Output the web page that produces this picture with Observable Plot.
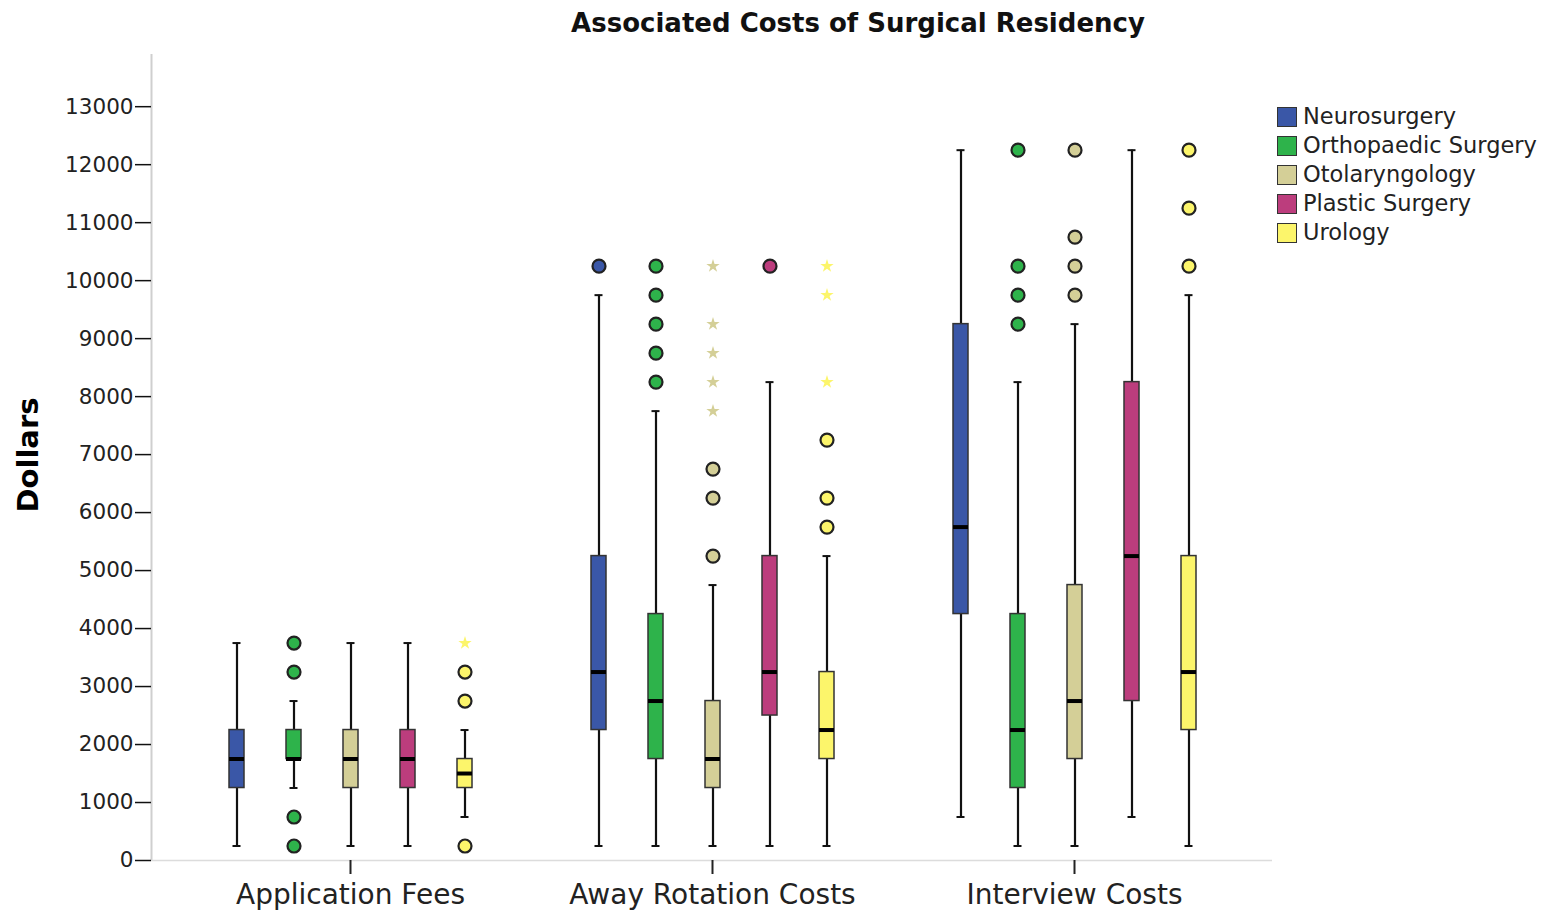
<!DOCTYPE html>
<html>
<head>
<meta charset="utf-8">
<script src="https://cdn.jsdelivr.net/npm/d3@7"></script>
<script src="https://cdn.jsdelivr.net/npm/@observablehq/plot@0.6"></script>
<style>
  html, body { margin: 0; padding: 0; background: #fff; }
  #wrap { position: relative; width: 1542px; height: 911px; overflow: hidden; font-family: "DejaVu Sans", sans-serif; color: #111; }
  #title { position: absolute; top: 10px; left: 858px; transform: translateX(-50%); white-space: nowrap; font-weight: bold; font-size: 26px; line-height: 26px; color: #111; }
  #ylabel { position: absolute; left: 28px; top: 455px; transform: translate(-50%, -50%) rotate(-90deg); font-weight: bold; font-size: 29px; line-height: 29px; white-space: nowrap; color: #000; }
  .layer { position: absolute; left: 0; top: 44px; }
  #legend { position: absolute; left: 1277px; top: 102px; }
  .row { display: flex; align-items: center; height: 29px; }
  .sw { width: 18px; height: 18px; border: 1.5px solid #333; margin-right: 6px; }
  .lt { font-size: 22.5px; line-height: 22px; color: #222; white-space: nowrap; margin-top: -2px; }
</style>
</head>
<body>
<div id="wrap">
  <div id="title">Associated Costs of Surgical Residency</div>
  <div id="ylabel">Dollars</div>
  <div id="axisLayer" class="layer"></div>
  <div id="boxLayer" class="layer"></div>
  <div id="legend"></div>
</div>
<script>
// ---- data ----
const groups = ["Application Fees", "Away Rotation Costs", "Interview Costs"];
const specialties = ["Neurosurgery", "Orthopaedic Surgery", "Otolaryngology", "Plastic Surgery", "Urology"];
const colors = ["#3A57A7", "#2EB34B", "#D4CF97", "#BC3D7D", "#FCF56B"];
const yTicks = [0, 1000, 2000, 3000, 4000, 5000, 6000, 7000, 8000, 9000, 10000, 11000, 12000, 13000];

// per group (rows) x per specialty (columns)
const whiskerLow  = [[250, 1250, 250, 250, 750], [250, 250, 250, 250, 250], [750, 250, 250, 750, 250]];
const quartile1   = [[1250, 1750, 1250, 1250, 1250], [2250, 1750, 1250, 2500, 1750], [4250, 1250, 1750, 2750, 2250]];
const medians     = [[1750, 1750, 1750, 1750, 1500], [3250, 2750, 1750, 3250, 2250], [5750, 2250, 2750, 5250, 3250]];
const quartile3   = [[2250, 2250, 2250, 2250, 1750], [5250, 4250, 2750, 5250, 3250], [9250, 4250, 4750, 8250, 5250]];
const whiskerHigh = [[3750, 2750, 3750, 3750, 2250], [9750, 7750, 4750, 8250, 5250], [12250, 8250, 9250, 12250, 9750]];

const outlierCircles = [
  [[], [3750, 3250, 750, 250], [], [], [3250, 2750, 250]],
  [[10250], [10250, 9750, 9250, 8750, 8250], [6750, 6250, 5250], [10250], [7250, 6250, 5750]],
  [[], [12250, 10250, 9750, 9250], [12250, 10750, 10250, 9750], [], [12250, 11250, 10250]]
];
const extremeStars = [
  [[], [], [], [], [3750]],
  [[], [], [10250, 9250, 8750, 8250, 7750], [], [10250, 9750, 8250]],
  [[], [], [], [], []]
];

// ---- tables built from the arrays ----
const stats = groups.flatMap((g, gi) => specialties.map((s, si) => ({
  group: g, spec: s,
  lo: whiskerLow[gi][si], q1: quartile1[gi][si], med: medians[gi][si],
  q3: quartile3[gi][si], hi: whiskerHigh[gi][si]
})));
const circles = groups.flatMap((g, gi) => specialties.flatMap((s, si) =>
  outlierCircles[gi][si].map(v => ({group: g, spec: s, value: v}))));
const stars = groups.flatMap((g, gi) => specialties.flatMap((s, si) =>
  extremeStars[gi][si].map(v => ({group: g, spec: s, value: v}))));

const W = 1542, H = 867;
const common = {
  width: W, height: H,
  marginLeft: 151, marginRight: 270, marginTop: 10, marginBottom: 51,
};
const yDomain = [0, 13900];

// Axis layer: y axis, axis lines
const axisPlot = Plot.plot({
  ...common,
  style: {fontFamily: "DejaVu Sans, sans-serif", color: "#222", background: "transparent"},
  x: {domain: [0, 1], axis: null},
  y: {domain: yDomain, axis: null},
  marks: [
    Plot.ruleY([0], {stroke: "#dcdcdc", strokeWidth: 1.5}),
    Plot.ruleX([0], {stroke: "#cfcfcf", strokeWidth: 2}),
    Plot.axisY({ticks: yTicks, tickFormat: "d", tickSize: 16, tickPadding: 2, fontSize: 21.5, label: null, stroke: "#111", strokeWidth: 1.5})
  ]
});
document.getElementById("axisLayer").appendChild(axisPlot);

// Box layer: faceted by cost group
const boxPlot = Plot.plot({
  ...common,
  style: {fontFamily: "DejaVu Sans, sans-serif", color: "#222", background: "transparent"},
  fx: {domain: groups, paddingInner: 0.1, paddingOuter: 0.098},
  x: {domain: specialties, paddingInner: 0.738, paddingOuter: 0.712, axis: null},
  y: {domain: yDomain, axis: null},
  color: {domain: specialties, range: colors},
  marks: [
    Plot.ruleX(stats, {fx: "group", x: "spec", y1: "lo", y2: "q1", stroke: "#111", strokeWidth: 2.2}),
    Plot.ruleX(stats, {fx: "group", x: "spec", y1: "q3", y2: "hi", stroke: "#111", strokeWidth: 2.2}),
    Plot.tickY(stats, {fx: "group", x: "spec", y: "lo", inset: 3.5, stroke: "#111", strokeWidth: 2}),
    Plot.tickY(stats, {fx: "group", x: "spec", y: "hi", inset: 3.5, stroke: "#111", strokeWidth: 2}),
    Plot.barY(stats, {fx: "group", x: "spec", y1: "q1", y2: "q3", fill: "spec", stroke: "#333", strokeWidth: 1.5}),
    Plot.tickY(stats, {fx: "group", x: "spec", y: "med", stroke: "#000", strokeWidth: 4}),
    Plot.dot(circles, {fx: "group", x: "spec", y: "value", fill: "spec", stroke: "#222", strokeWidth: 2.2, r: 6.5}),
    Plot.dot(stars, {fx: "group", x: "spec", y: "value", fill: "spec", symbol: "star", r: 4.2}),
    Plot.axisFx({anchor: "bottom", tickSize: 14, tickPadding: 10, fontSize: 28, label: null, stroke: "#222", strokeWidth: 2})
  ]
});
document.getElementById("boxLayer").appendChild(boxPlot);

// Legend
const legend = document.getElementById("legend");
specialties.forEach((s, i) => {
  const row = document.createElement("div");
  row.className = "row";
  const sw = document.createElement("div");
  sw.className = "sw";
  sw.style.background = colors[i];
  const t = document.createElement("div");
  t.className = "lt";
  t.textContent = s;
  row.appendChild(sw);
  row.appendChild(t);
  legend.appendChild(row);
});
</script>
</body>
</html>
